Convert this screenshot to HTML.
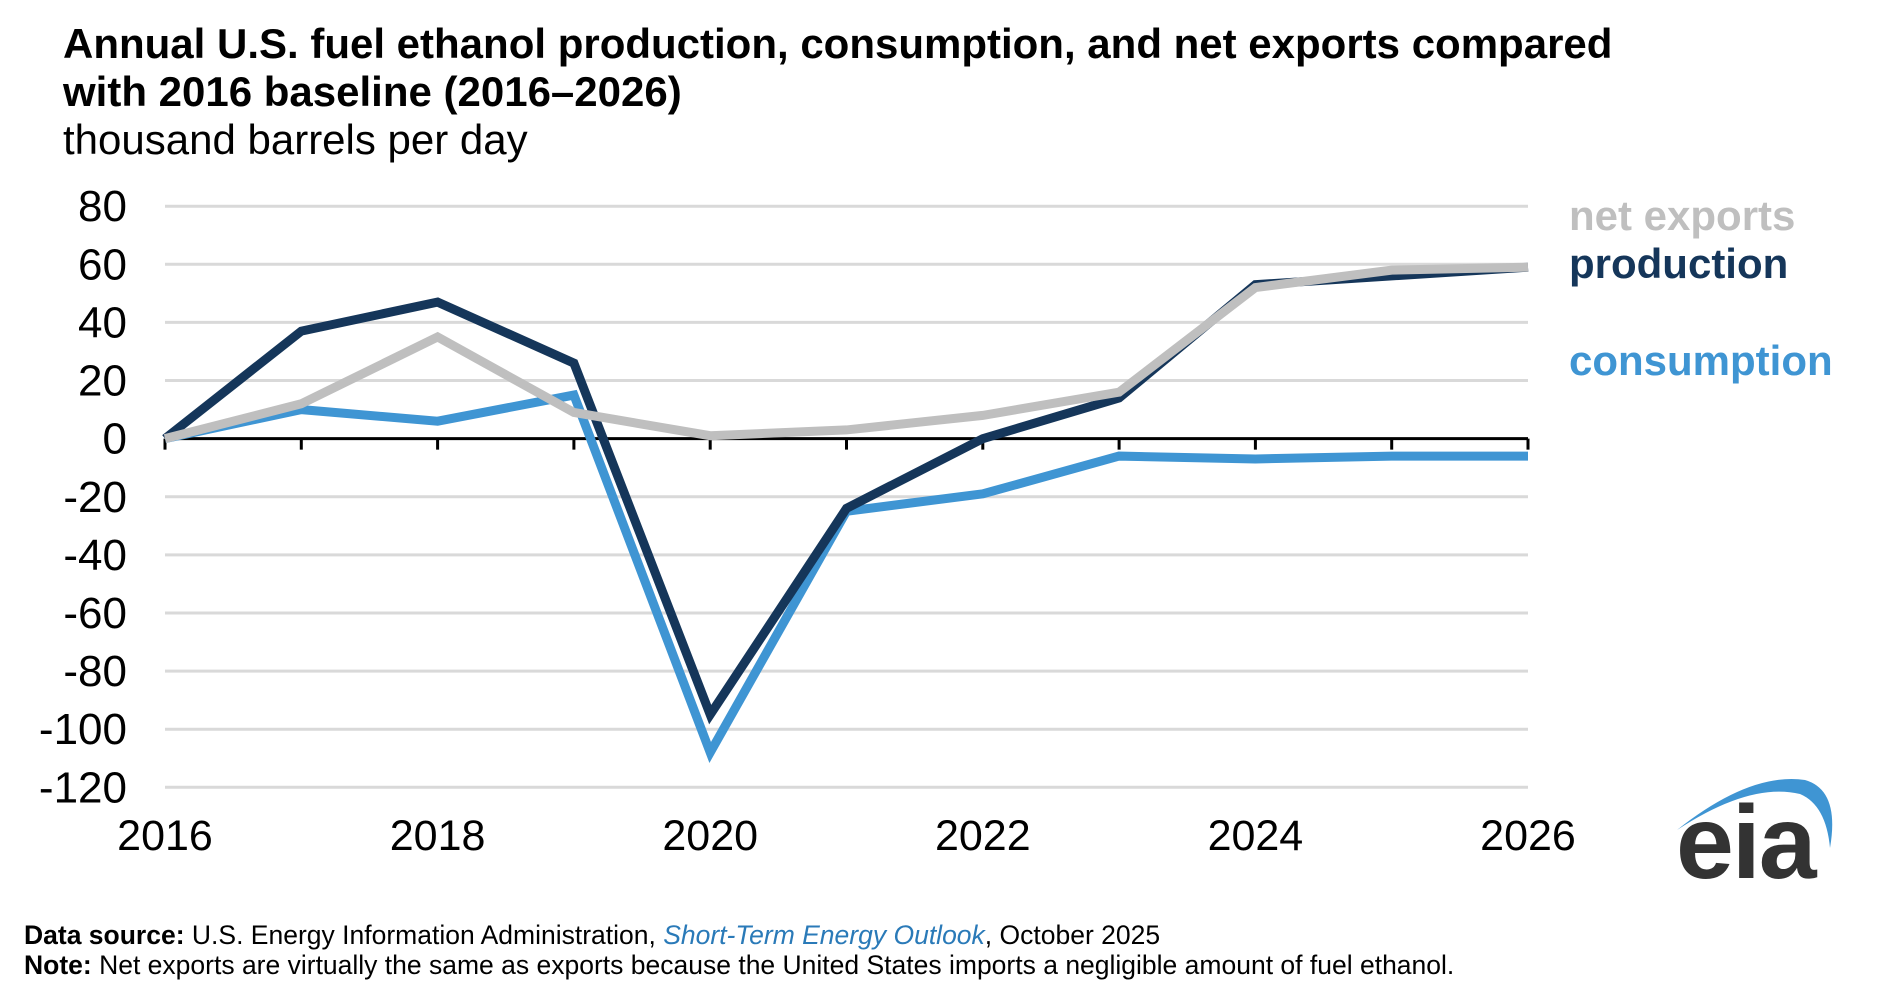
<!DOCTYPE html>
<html><head><meta charset="utf-8"><style>
body{margin:0;background:#fff;}
svg{display:block;font-family:"Liberation Sans",Arial,sans-serif;}
</style></head><body>
<svg id="chart" width="1880" height="996" viewBox="0 0 1880 996">
<text x="63" y="58" font-size="42" font-weight="bold" fill="#000">Annual U.S. fuel ethanol production, consumption, and net exports compared</text>
<text x="63" y="106" font-size="42" font-weight="bold" fill="#000">with 2016 baseline (2016–2026)</text>
<text x="63" y="154" font-size="42" fill="#000">thousand barrels per day</text>
<g id="grid"></g>
<g id="axes"></g>
<g id="series"></g>
<text x="1569" y="230" font-size="42" font-weight="bold" fill="#bfbfbf">net exports</text>
<text x="1569" y="278" font-size="42" font-weight="bold" fill="#15365a">production</text>
<text x="1569" y="375" font-size="42" font-weight="bold" fill="#3f95d3">consumption</text>
<g>
<path d="M1677,830 Q1750,772 1805,780 Q1840,790 1830,848 Q1826,805 1800,794 Q1750,782 1677,830 Z" fill="#3f95d3"/>
<text x="1676" y="878" font-size="104" font-weight="bold" fill="#333" letter-spacing="-2">eia</text>
</g>
<text x="24" y="944" font-size="26.5" fill="#000"><tspan font-weight="bold">Data source:</tspan> U.S. Energy Information Administration, <tspan font-style="italic" fill="#2a7ab8">Short-Term Energy Outlook</tspan>, October 2025</text>
<text x="24" y="974" font-size="26.5" fill="#000"><tspan font-weight="bold">Note:</tspan> Net exports are virtually the same as exports because the United States imports a negligible amount of fuel ethanol.</text>
</svg>
<script>
const years=[2016,2017,2018,2019,2020,2021,2022,2023,2024,2025,2026];
const production=[0,37,47,26,-95,-24,0,14,53,56,59];
const consumption=[0,10,6,15,-108,-25,-19,-6,-7,-6,-6];
const netExports=[0,12,35,9,1,3,8,16,52,58,59];
const yTicks=[80,60,40,20,0,-20,-40,-60,-80,-100,-120];
const xLabels=[2016,2018,2020,2022,2024,2026];
const NS="http://www.w3.org/2000/svg";
const x0=165,x1=1528,yTop=206.2,yBot=787.3;
function xs(v){return x0+(v-2016)/(2026-2016)*(x1-x0);}
function ys(v){return yTop+(80-v)/(200)*(yBot-yTop);}
function mk(tag,attrs,parent){const e=document.createElementNS(NS,tag);for(const k in attrs)e.setAttribute(k,attrs[k]);parent.appendChild(e);return e;}
const grid=document.getElementById('grid'),axes=document.getElementById('axes'),ser=document.getElementById('series');
yTicks.forEach(t=>{
  if(t!==0){const l=mk('line',{x1:x0,x2:x1,y1:ys(t),y2:ys(t),stroke:'#d9d9d9','stroke-width':3},grid);
  
  }
  const tx=mk('text',{x:127,y:ys(t)+15,'font-size':44,'text-anchor':'end',fill:'#000'},axes);
  tx.textContent=t;
  
  
});
const ax=mk('line',{x1:x0,x2:x1,y1:ys(0),y2:ys(0),stroke:'#000','stroke-width':3},axes);


years.forEach(y=>{
  const t=mk('line',{x1:xs(y),x2:xs(y),y1:ys(0),y2:ys(0)+11,stroke:'#000','stroke-width':3},axes);
  
  
});
xLabels.forEach(y=>{
  const tx=mk('text',{x:xs(y),y:850,'font-size':43,'text-anchor':'middle',fill:'#000'},axes);
  tx.textContent=y;
  
  
});
function line(vals,color,name){
  const p=mk('polyline',{points:vals.map((v,i)=>xs(years[i])+','+ys(v)).join(' '),fill:'none',stroke:color,'stroke-width':9,'stroke-linejoin':'miter'},ser);
  
  
}
line(consumption,'#3f95d3','consumption-line');
line(production,'#15365a','production-line');
line(netExports,'#bfbfbf','net-exports-line');
</script>
</body></html>
